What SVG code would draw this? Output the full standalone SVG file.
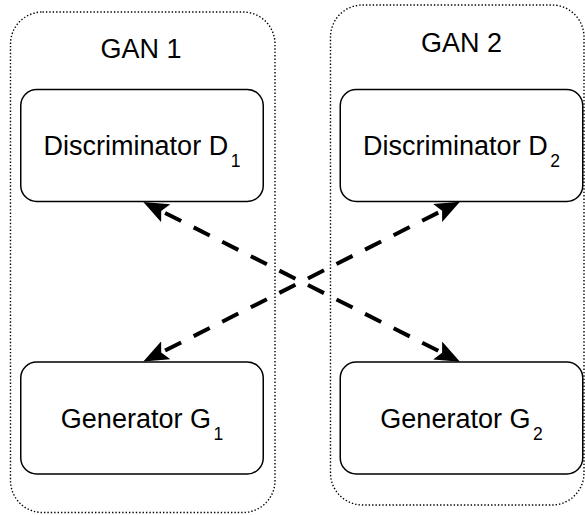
<svg xmlns="http://www.w3.org/2000/svg" width="585" height="515" viewBox="0 0 585 515">
  <style>
    .group { fill: none; stroke: #000; stroke-width: 1.4; stroke-dasharray: 1.4 2; }
    .box { fill: #fff; stroke: #000; stroke-width: 1.5; }
    .lbl { font-family: "Liberation Sans", Arial, sans-serif; font-size: 27px; fill: #000; text-anchor: middle; }
    .sub { font-size: 17.5px; }
    .conn { fill: none; stroke: #000; stroke-width: 4; stroke-dasharray: 18 14; stroke-dashoffset: 27.65; }
  </style>
  <defs>
    <marker id="arr" viewBox="0 0 25 20" refX="5" refY="10" markerWidth="25" markerHeight="20" markerUnits="userSpaceOnUse" orient="auto-start-reverse">
      <path d="M25,10 L0,0 L5,10 L0,20 Z" fill="#000"/>
    </marker>
  </defs>

  <g id="gan1">
    <rect class="group" x="10.5" y="12" width="264.5" height="500.5" rx="32" ry="32"/>
    <text class="lbl" x="141" y="57.5">GAN 1</text>
  </g>
  <g id="gan2">
    <rect class="group" x="330.5" y="5" width="253.5" height="500" rx="32" ry="32"/>
    <text class="lbl" x="461.5" y="51.5">GAN 2</text>
  </g>

  <g id="d1">
    <rect class="box" x="20.75" y="89.5" width="242.5" height="112" rx="16" ry="16"/>
    <text class="lbl" x="142" y="155">Discriminator D<tspan class="sub" dx="2.5" dy="12">1</tspan></text>
  </g>
  <g id="d2">
    <rect class="box" x="340.25" y="89.5" width="242.5" height="112" rx="16" ry="16"/>
    <text class="lbl" x="461.5" y="155">Discriminator D<tspan class="sub" dx="2.5" dy="12">2</tspan></text>
  </g>
  <g id="g1">
    <rect class="box" x="20.75" y="362" width="242.5" height="112" rx="16" ry="16"/>
    <text class="lbl" x="142" y="427.5">Generator G<tspan class="sub" dx="2.5" dy="12">1</tspan></text>
  </g>
  <g id="g2">
    <rect class="box" x="340.25" y="362" width="242.5" height="112" rx="16" ry="16"/>
    <text class="lbl" x="461.5" y="427.5">Generator G<tspan class="sub" dx="2.5" dy="12">2</tspan></text>
  </g>

  <g id="connectors">
    <line class="conn" x1="161.2" y1="211" x2="442.1" y2="352.7" marker-start="url(#arr)" marker-end="url(#arr)"/>
    <line class="conn" x1="161.2" y1="352.5" x2="442.1" y2="210.7" marker-start="url(#arr)" marker-end="url(#arr)"/>
  </g>
</svg>
